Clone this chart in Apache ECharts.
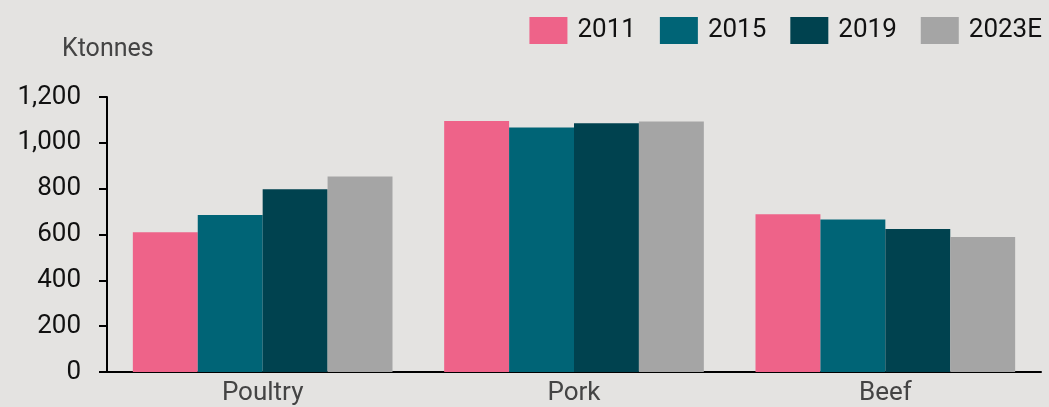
<!DOCTYPE html>
<html><head><meta charset="utf-8">
<script src="https://cdn.jsdelivr.net/npm/echarts@6/dist/echarts.min.js"></script>
<style>html,body{margin:0;padding:0;background:#E4E3E1;}#c{width:1049px;height:407px;}</style>
</head><body><div id="c"></div>
<script>
const categories = ['Poultry', 'Pork', 'Beef'];
const seriesNames = ['2011', '2015', '2019', '2023E'];
const v2011 = [610, 1095, 688];
const v2015 = [685, 1067, 666];
const v2019 = [797, 1085, 624];
const v2023E = [853, 1093, 589];
const yTicks = [0, 200, 400, 600, 800, 1000, 1200];
const colors = ['#EE6389', '#006476', '#00424F', '#A5A5A5'];
const values = [v2011, v2015, v2019, v2023E];

const chart = echarts.init(document.getElementById('c'));
chart.setOption({
  backgroundColor: '#E4E3E1',
  animation: false,
  textStyle: { fontFamily: 'Roboto' },
  title: { text: 'Ktonnes', left: 57, top: 32, textStyle: { fontFamily: 'Roboto', fontSize: 25, fontWeight: 'normal', color: '#444' } },
  legend: {
    right: 2, top: 12, itemWidth: 38, itemHeight: 27, itemGap: 24,
    icon: 'rect',
    textStyle: { fontFamily: 'Roboto', fontSize: 26, color: '#111', padding: [0, 0, 0, 5] },
    data: seriesNames
  },
  grid: { left: 107, right: 8, top: 97, bottom: 35, containLabel: false },
  xAxis: {
    type: 'category', data: categories,
    axisLine: { lineStyle: { color: '#000', width: 2 } },
    axisTick: { show: false },
    axisLabel: { fontFamily: 'Roboto', fontSize: 26, color: '#444', margin: 8 }
  },
  yAxis: {
    type: 'value', min: yTicks[0], max: yTicks[yTicks.length - 1], interval: 200,
    splitLine: { show: false },
    axisLine: { show: true, lineStyle: { color: '#000', width: 2 } },
    axisTick: { show: true, length: 8, lineStyle: { color: '#000', width: 2 } },
    axisLabel: { fontFamily: 'Roboto', fontSize: 26, color: '#111', margin: 26,
      formatter: v => v.toLocaleString('en-US') }
  },
  series: seriesNames.map((n, i) => ({
    name: n, type: 'bar', data: values[i],
    barGap: '0%', barCategoryGap: '16.6%',
    itemStyle: { color: colors[i] }
  }))
});
</script></body></html>
